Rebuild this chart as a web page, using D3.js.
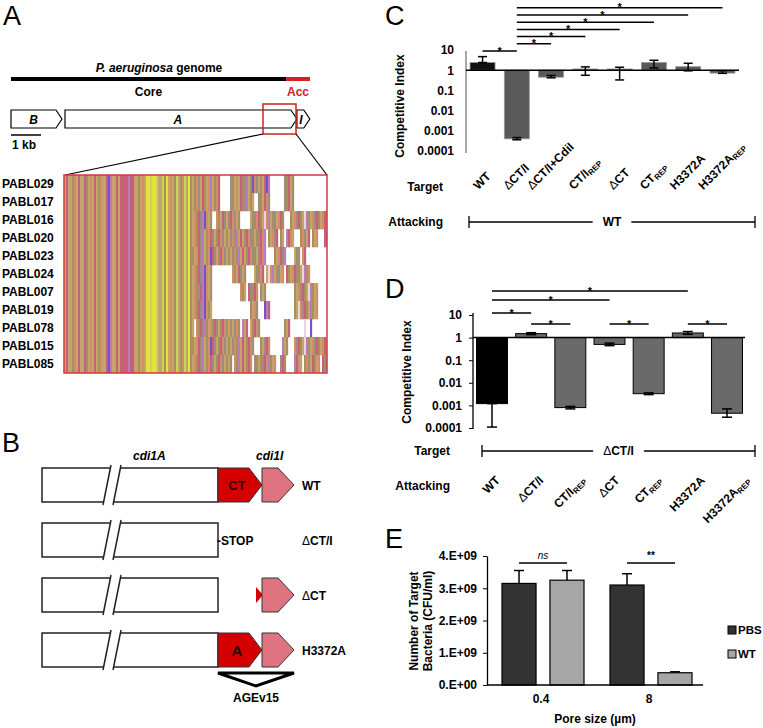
<!DOCTYPE html>
<html><head><meta charset="utf-8">
<script src="https://cdn.jsdelivr.net/npm/d3@7"></script>
<style>body{margin:0;background:#fff}svg{display:block}text{font-family:"Liberation Sans",Arial,sans-serif}</style>
</head><body><svg id="c" width="763" height="728"></svg>
<script>
// ================= DATA =================
// Panel A
const genomeParts = ["Core", "Acc"];
const genomeFrac = [0.92, 0.08];
const genes = ["B", "A", "I"];
const geneStartKb = [0, 1.8, 9.53];
const geneLenKb = [1.7, 7.73, 0.43];
const zoomKb = [8.4, 9.5];
const strains = ["PABL029","PABL017","PABL016","PABL020","PABL023","PABL024","PABL007","PABL019","PABL078","PABL015","PABL085"];
const conservedCols = "abaaghabaabjahabaghaabdcaababbbbcbbaagahaeefeefaafgeahagfaghfaeg";
const variableCols = [
 "aghjabgahcaghb.....jgahabgjcagdhjagabdc.......jgbag",
 "aghjabgahcaghb.....jgahabgjcaga..jgabhj.......jgbaj",
 "ahgbjcdhag..hgabjagbhjag.....ajghbgaihcagjahbg...gahjbgaicgahjbgahba",
 "ahgbjcaghbjagbhjagajhgcabagbhjgagjbhc.gahjb.ga.cbha...ghjab.gah...bjgah",
 "gahbjcaghdbjagbhjagajhgcabagbhjgajbhc....gahbjc....ajg.hb",
 "ahgbjcdhag..........hgabjag....ajghb.aihcagjah.bgahbjgaicgh",
 "ahgjbcdhag..............hga.bjgbh.jag..............gahjbgaicgah",
 "ahgbjcdhga...................gahj...dcb............gaihjbgacgah",
 "a.hgbjcgahgbjagbhjagajhg.cab.agbhj............gab.......i..d",
 "gahbjcaghdbjagbhjagajhgcabagbhj...gajbh......cag...hjbgaicgahjbgahba",
 "ahgbjcaghbjagbhjagaj.hgcabagbh.jgagjbhcgah..jbg....cbha.ghjabgah.bjgah"
];
const stripeColors = {a:"#c4a468",b:"#c8607a",c:"#b580b8",d:"#7a4fc8",e:"#e6e236",f:"#c9d35a",g:"#a88f5e",h:"#d28d6a",i:"#f0d2da",j:"#9e8c80"};

// Panel B
const constructs = ["WT", "ΔCT/I", "ΔCT", "H3372A"];
const constructCT = ["CT", null, "stub", "A"];
const constructImm = [true, false, true, true];

// Panel C
const catsC = ["WT","ΔCT/I","ΔCT/I+CdiI","CT/I_REP","ΔCT","CT_REP","H3372A","H3372A_REP"];
const valC  = [2.4, 0.0004, 0.45, 1.15, 1.15, 2.4, 1.5, 0.72];
const errLoC = [2.4, 0.00036, 0.42, 0.56, 0.33, 1.3, 0.93, 0.7];
const errHiC = [4.7, 0.00046, 0.55, 1.46, 1.4, 3.1, 2.2, 0.95];
const sigC = [["WT","ΔCT/I"],["ΔCT/I","ΔCT/I+CdiI"],["ΔCT/I","CT/I_REP"],["ΔCT/I","ΔCT"],["ΔCT/I","CT_REP"],["ΔCT/I","H3372A"],["ΔCT/I","H3372A_REP"]];
const ticksLog = [10, 1, 0.1, 0.01, 0.001, 0.0001];
const tickLabelsLog = ["10","1","0.1","0.01","0.001","0.0001"];

// Panel D
const catsD = ["WT","ΔCT/I","CT/I_REP","ΔCT","CT_REP","H3372A","H3372A_REP"];
const valD  = [0.0012, 1.5, 0.0008, 0.5, 0.0033, 1.6, 0.00045];
const errLoD = [0.00011, 1.35, 0.0007, 0.44, 0.003, 1.4, 0.0003];
const errHiD = [0.0012, 1.65, 0.0009, 0.57, 0.0036, 1.85, 0.0007];
const sigD = [["WT","ΔCT/I"],["ΔCT/I","CT/I_REP"],["ΔCT","CT_REP"],["H3372A","H3372A_REP"],["WT","ΔCT"],["WT","H3372A"]];

// Panel E
const poreSizes = ["0.4", "8"];
const seriesE = ["PBS", "WT"];
const valE = {PBS: [3.15e9, 3.1e9], WT: [3.25e9, 0.38e9]};
const errE = {PBS: [3.55e9, 3.45e9], WT: [3.55e9, 0.41e9]};
const sigE = ["ns", "**"];
const ticksE = [0, 1e9, 2e9, 3e9, 4e9];
const tickLabelsE = ["0.E+00","1.E+09","2.E+09","3.E+09","4.E+09"];

// ================= DRAW =================
const svg = d3.select("#c");
svg.append("rect").attr("width",763).attr("height",728).attr("fill","#fff");

function letter(t, x, y){ svg.append("text").attr("x",x).attr("y",y).attr("font-size",27).text(t); }
letter("A",3,25); letter("B",2,452); letter("C",385,25); letter("D",385,298); letter("E",385,548);

function bold(g, x, y, txt, size, anchor){
  return g.append("text").attr("x",x).attr("y",y).attr("font-weight","bold").attr("font-size",size||12)
    .attr("text-anchor",anchor||"start").text(txt);
}

// ---------- Panel A ----------
const gA = svg.append("g");
const gx = d3.scaleLinear().domain([0,1]).range([11,310]);
gA.append("text").attr("x",159).attr("y",72).attr("text-anchor","middle").attr("font-weight","bold").attr("font-size",12)
  .call(t=>{t.append("tspan").attr("font-style","italic").text("P. aeruginosa"); t.append("tspan").text(" genome");});
let acc = 0;
genomeParts.forEach((p,i)=>{
  const x0 = gx(acc), x1 = gx(acc+genomeFrac[i]); acc += genomeFrac[i];
  const col = i===0 ? "#000" : "#d42020";
  gA.append("line").attr("x1",x0).attr("x2",x1).attr("y1",79).attr("y2",79).attr("stroke",col).attr("stroke-width",4);
  bold(gA,(x0+x1)/2,96,p,12,"middle").attr("fill",col);
});
const kb = d3.scaleLinear().domain([0,1]).range([11,41]);
genes.forEach((g,i)=>{
  const x0 = kb(geneStartKb[i]), x1 = kb(geneStartKb[i]+geneLenKb[i]);
  const tip = 6, y0 = 110, y1 = 128, ym = 119;
  gA.append("polygon").attr("points",[[x0,y0],[x1-tip,y0],[x1,ym],[x1-tip,y1],[x0,y1]].join(" "))
    .attr("fill","#fff").attr("stroke","#000").attr("stroke-width",1.2);
  bold(gA, i===2 ? x0+4 : (x0+x1-tip)/2, 124, g, 12, "middle").attr("font-style","italic");
});
const zx0 = kb(zoomKb[0]), zx1 = kb(zoomKb[1]);
gA.append("rect").attr("x",zx0).attr("y",104).attr("width",zx1-zx0).attr("height",30).attr("fill","none").attr("stroke","#d42020").attr("stroke-width",1.5);
gA.append("line").attr("x1",kb(0)).attr("x2",kb(1)).attr("y1",135).attr("y2",135).attr("stroke","#000").attr("stroke-width",1.5);
bold(gA,12,149,"1 kb");
// alignment box
const box = {x:64, y:175, w:263, h:198};
gA.append("line").attr("x1",zx0).attr("y1",134).attr("x2",box.x+1).attr("y2",box.y).attr("stroke","#000").attr("stroke-width",1.2);
gA.append("line").attr("x1",zx1).attr("y1",134).attr("x2",box.x+box.w).attr("y2",box.y).attr("stroke","#000").attr("stroke-width",1.2);
svg.append("clipPath").attr("id","clipA").append("rect").attr("x",box.x).attr("y",box.y).attr("width",box.w).attr("height",box.h);
const rowY = d3.scaleBand().domain(strains).range([box.y, box.y+box.h]);
const gStripes = gA.append("g").attr("clip-path","url(#clipA)");
gStripes.append("rect").attr("x",box.x).attr("y",box.y).attr("width",box.w).attr("height",box.h).attr("fill","#fff");
strains.forEach((s,i)=>{
  const cols = (conservedCols + variableCols[i]).split("");
  gStripes.selectAll(null).data(cols.map((c,j)=>({c,j})).filter(d=>d.c!=="."))
    .join("rect").attr("x",d=>box.x+2*d.j).attr("y",rowY(s)).attr("width",2.15).attr("height",rowY.bandwidth()+0.3)
    .attr("fill",d=>stripeColors[d.c]);
  bold(gA,2,rowY(s)+rowY.bandwidth()/2+4,s);
});
gA.append("rect").attr("x",box.x).attr("y",box.y).attr("width",box.w).attr("height",box.h).attr("fill","none").attr("stroke","#d23a3a").attr("stroke-width",1.5);

// ---------- Panel B ----------
const gB = svg.append("g");
bold(gB,133,460,"cdi1A").attr("font-style","italic");
bold(gB,256,460,"cdi1I").attr("font-style","italic");
const yB = d3.scaleBand().domain(constructs).range([468,667]).paddingInner(0.382);
const bx0 = 42, bx1 = 218;
constructs.forEach((c,i)=>{
  const y0 = yB(c), h = yB.bandwidth(), y1 = y0+h, ym = y0+h/2;
  gB.append("rect").attr("x",bx0).attr("y",y0).attr("width",bx1-bx0).attr("height",h).attr("fill","#fff").attr("stroke","#222").attr("stroke-width",1.5);
  gB.append("polygon").attr("points",[[103,y1+3],[111,y0-3],[121,y0-3],[113,y1+3]].join(" ")).attr("fill","#fff");
  gB.append("line").attr("x1",103).attr("y1",y1+3).attr("x2",111).attr("y2",y0-3).attr("stroke","#222").attr("stroke-width",1.5);
  gB.append("line").attr("x1",113).attr("y1",y1+3).attr("x2",121).attr("y2",y0-3).attr("stroke","#222").attr("stroke-width",1.5);
  const ct = constructCT[i];
  if (ct === "CT" || ct === "A") {
    gB.append("polygon").attr("points",[[218,y0],[249,y0],[262,ym],[249,y1],[218,y1]].join(" ")).attr("fill","#d40000").attr("stroke","#333").attr("stroke-width",1);
    bold(gB,237,ym+ (ct==="A"?6:5),ct,ct==="A"?15:13,"middle").attr("fill","#2a0000");
  } else if (ct === "stub") {
    gB.append("polygon").attr("points",[[256,ym-8],[263,ym],[256,ym+8]].join(" ")).attr("fill","#d40000");
  }
  if (constructImm[i]) {
    gB.append("polygon").attr("points",[[262,y0],[278,y0],[294,ym],[278,y1],[262,y1]].join(" ")).attr("fill","#df7380").attr("stroke","#333").attr("stroke-width",1);
  } else {
    bold(gB,217,ym+5,"-STOP");
  }
  const t = gB.append("text").attr("x",302).attr("y",ym+5).attr("font-weight","bold").attr("font-size",12);
  if (c.startsWith("Δ")) { t.append("tspan").attr("font-weight","normal").text("Δ"); t.append("tspan").text(c.slice(1)); }
  else t.text(c);
});
gB.append("polygon").attr("points",[[218,673],[294,673],[256,686]].join(" ")).attr("fill","#fff").attr("stroke","#000").attr("stroke-width",3).attr("stroke-linejoin","miter");
bold(gB,256,702,"AGEv15",12,"middle");

// ---------- shared helpers ----------
function richLabel(t, label){
  let main = label, sub = null;
  if (label.includes("_")) [main, sub] = label.split("_");
  if (main.startsWith("Δ")) { t.append("tspan").attr("font-weight","normal").text("Δ"); main = main.slice(1); }
  t.append("tspan").text(main);
  if (sub) t.append("tspan").attr("font-size",8).attr("dy",2).text(sub);
}
function rotLabel(g, label, cx, anchorY, mode){
  const fs = 12;
  const t = g.append("text").attr("font-weight","bold").attr("font-size",fs).attr("text-anchor","middle");
  richLabel(t, label);
  const L = t.node().getComputedTextLength();
  const c = Math.SQRT1_2, asc = 0.72*fs, desc = 0.2*fs;
  const px = cx - (desc-asc)*c/2;
  const py = mode === "bottom" ? anchorY - (L/2+desc)*c : anchorY + (L/2+asc)*c;
  t.attr("transform",`translate(${px},${py}) rotate(-45)`);
}
function bracket(g, x0, x1, y, label){
  g.append("line").attr("x1",x0).attr("x2",x1).attr("y1",y).attr("y2",y).attr("stroke","#000").attr("stroke-width",1.3);
  g.append("line").attr("x1",x0).attr("x2",x0).attr("y1",y-6).attr("y2",y+6).attr("stroke","#000").attr("stroke-width",1.3);
  g.append("line").attr("x1",x1).attr("x2",x1).attr("y1",y-6).attr("y2",y+6).attr("stroke","#000").attr("stroke-width",1.3);
  const t = g.append("text").attr("x",(x0+x1)/2).attr("y",y+4).attr("text-anchor","middle").attr("font-weight","bold").attr("font-size",12);
  richLabel(t,label);
  const w = t.node().getComputedTextLength();
  g.append("rect").attr("x",(x0+x1)/2-w/2-10).attr("y",y-3).attr("width",w+20).attr("height",6).attr("fill","#fff");
  t.raise();
}
function logAxis(g, y, x, size, pad, col){
  const ax = g.append("g").attr("transform",`translate(${x},0)`)
    .call(d3.axisLeft(y).tickValues(ticksLog).tickFormat((d,i)=>tickLabelsLog[i]).tickSize(size).tickPadding(pad).tickSizeOuter(0));
  ax.select(".domain").attr("stroke",col).attr("stroke-width",1.3);
  ax.selectAll("line").attr("stroke",col);
  ax.selectAll("text").attr("font-weight","bold").attr("font-size",12).attr("font-family","Liberation Sans, Arial, sans-serif").attr("fill","#000");
  return ax;
}
function star(g, x, y, s){ g.append("text").attr("x",x).attr("y",y+3.5).attr("text-anchor","middle").attr("font-size",11).attr("font-weight","bold").text(s); }

// ---------- Panel C ----------
const gC = svg.append("g");
const xC = d3.scaleBand().domain(catsC).range([465.4,739.6]).paddingInner(0.27).paddingOuter(0.135);
const yC = d3.scaleLog().domain([1e-4,10]).range([151,50]);
logAxis(gC, yC, 466, 0, 12, "#777");
gC.select(".domain").attr("d","M0,51V153");
catsC.forEach((c,i)=>{
  const y1 = yC(1), yv = yC(valC[i]);
  gC.append("rect").attr("x",xC(c)).attr("width",xC.bandwidth()).attr("y",Math.min(y1,yv)).attr("height",Math.abs(y1-yv))
    .attr("fill", i===0 ? "#111" : "#595959").attr("stroke","#9a9a9a").attr("stroke-width",0.8);
});
gC.append("line").attr("x1",466).attr("x2",739).attr("y1",yC(1)).attr("y2",yC(1)).attr("stroke","#000").attr("stroke-width",1.5);
catsC.forEach((c,i)=>{
  const cx = xC(c)+xC.bandwidth()/2, a = yC(errLoC[i]), b = yC(errHiC[i]);
  gC.append("line").attr("x1",cx).attr("x2",cx).attr("y1",a).attr("y2",b).attr("stroke","#000").attr("stroke-width",1.5);
  [a,b].forEach(yy=>gC.append("line").attr("x1",cx-4.5).attr("x2",cx+4.5).attr("y1",yy).attr("y2",yy).attr("stroke","#000").attr("stroke-width",1.5));
});
sigC.forEach((p,k)=>{
  const x0 = xC(p[0])+xC.bandwidth()/2, x1 = xC(p[1])+xC.bandwidth()/2, y = 51 - 7.2*k;
  gC.append("line").attr("x1",x0).attr("x2",x1).attr("y1",y).attr("y2",y).attr("stroke","#000").attr("stroke-width",1.5);
  star(gC,(x0+x1)/2,y,"*");
});
gC.append("text").attr("transform","translate(404,106) rotate(-90)").attr("text-anchor","middle").attr("font-weight","bold").attr("font-size",12).text("Competitive Index");
bold(gC,443,191,"Target",12,"end");
catsC.forEach(c=>rotLabel(gC,c,xC(c)+xC.bandwidth()/2,192,"bottom"));
bold(gC,443,226,"Attacking",12,"end");
bracket(gC,469,755,222,"WT");

// ---------- Panel D ----------
const gD = svg.append("g");
const xD = d3.scaleBand().domain(catsD).range([472.4,746.6]).paddingInner(0.21).paddingOuter(0.105);
const yD = d3.scaleLog().domain([1e-4,10]).range([428,315]);
logAxis(gD, yD, 473, 4, 7, "#000");
gD.select(".domain").attr("d","M0,313V429");
catsD.forEach((c,i)=>{
  const y1 = yD(1), yv = yD(valD[i]);
  gD.append("rect").attr("x",xD(c)).attr("width",xD.bandwidth()).attr("y",Math.min(y1,yv)).attr("height",Math.abs(y1-yv))
    .attr("fill", i===0 ? "#000" : "#6a6a6a").attr("stroke","#000").attr("stroke-width",1);
});
gD.append("line").attr("x1",473).attr("x2",745).attr("y1",yD(1)).attr("y2",yD(1)).attr("stroke","#000").attr("stroke-width",1.5);
catsD.forEach((c,i)=>{
  const cx = xD(c)+xD.bandwidth()/2, a = yD(errLoD[i]), b = yD(errHiD[i]);
  gD.append("line").attr("x1",cx).attr("x2",cx).attr("y1",a).attr("y2",b).attr("stroke","#000").attr("stroke-width",1.5);
  [a,b].forEach(yy=>gD.append("line").attr("x1",cx-5).attr("x2",cx+5).attr("y1",yy).attr("y2",yy).attr("stroke","#000").attr("stroke-width",1.5));
});
const sigDy = [313, 324, 324, 324, 300, 291];
sigD.forEach((p,k)=>{
  const x0 = xD(p[0])+xD.bandwidth()/2, x1 = xD(p[1])+xD.bandwidth()/2, y = sigDy[k];
  gD.append("line").attr("x1",x0).attr("x2",x1).attr("y1",y).attr("y2",y).attr("stroke","#000").attr("stroke-width",1.5);
  star(gD,(x0+x1)/2,y,"*");
});
gD.append("text").attr("transform","translate(411,372) rotate(-90)").attr("text-anchor","middle").attr("font-weight","bold").attr("font-size",12).text("Competitive Index");
bold(gD,450,455,"Target",12,"end");
bracket(gD,482,755,451,"ΔCT/I");
bold(gD,450,490,"Attacking",12,"end");
catsD.forEach(c=>rotLabel(gD,c,xD(c)+xD.bandwidth()/2,475,"top"));

// ---------- Panel E ----------
const gE = svg.append("g");
const x0E = d3.scaleBand().domain(poreSizes).range([487,703]);
const x1E = d3.scaleBand().domain(seriesE).range([15,97]).paddingInner(0.29);
const yE = d3.scaleLinear().domain([0,4e9]).range([685,556]);
const colE = {PBS:"#333333", WT:"#a6a6a6"};
const axE = gE.append("g").attr("transform","translate(487,0)")
  .call(d3.axisLeft(yE).tickValues(ticksE).tickFormat((d,i)=>tickLabelsE[i]).tickSize(4).tickPadding(6).tickSizeOuter(0));
axE.select(".domain").attr("stroke","#000").attr("stroke-width",1.3);
axE.selectAll("text").attr("font-weight","bold").attr("font-size",12).attr("font-family","Liberation Sans, Arial, sans-serif");
seriesE.forEach(s=>{
  poreSizes.forEach((p,i)=>{
    const x = x0E(p)+x1E(s), w = x1E.bandwidth(), cx = x+w/2;
    gE.append("rect").attr("x",x).attr("width",w).attr("y",yE(valE[s][i])).attr("height",yE(0)-yE(valE[s][i]))
      .attr("fill",colE[s]).attr("stroke","#000").attr("stroke-width",1.2);
    gE.append("line").attr("x1",cx).attr("x2",cx).attr("y1",yE(valE[s][i])).attr("y2",yE(errE[s][i])).attr("stroke","#000").attr("stroke-width",1.5);
    gE.append("line").attr("x1",cx-5).attr("x2",cx+5).attr("y1",yE(errE[s][i])).attr("y2",yE(errE[s][i])).attr("stroke","#000").attr("stroke-width",1.5);
  });
});
gE.append("line").attr("x1",487).attr("x2",703).attr("y1",685).attr("y2",685).attr("stroke","#000").attr("stroke-width",1.3);
poreSizes.forEach((p,i)=>{
  const xa = x0E(p)+x1E("PBS")+x1E.bandwidth()/2, xb = x0E(p)+x1E("WT")+x1E.bandwidth()/2;
  gE.append("line").attr("x1",xa).attr("x2",xb).attr("y1",563).attr("y2",563).attr("stroke","#000").attr("stroke-width",1.3);
  const t = gE.append("text").attr("x",(xa+xb)/2).attr("y",559).attr("text-anchor","middle").attr("font-size",10).text(sigE[i]);
  if (sigE[i]==="ns") t.attr("font-style","italic"); else t.attr("font-weight","bold");
  bold(gE,x0E(p)+x0E.bandwidth()/2,703,p,12,"middle");
});
bold(gE,595,723,"Pore size (µm)",12,"middle");
gE.append("text").attr("transform","translate(418,621) rotate(-90)").attr("text-anchor","middle").attr("font-weight","bold").attr("font-size",12).text("Number of Target");
gE.append("text").attr("transform","translate(432,621) rotate(-90)").attr("text-anchor","middle").attr("font-weight","bold").attr("font-size",12).text("Bacteria  (CFU/ml)");
seriesE.forEach((s,i)=>{
  const y = 626 + i*24;
  gE.append("rect").attr("x",728).attr("y",y).attr("width",8).attr("height",8).attr("fill",colE[s]).attr("stroke","#000").attr("stroke-width",1);
  bold(gE,738,y+8,s,11.5);
});
</script></body></html>
